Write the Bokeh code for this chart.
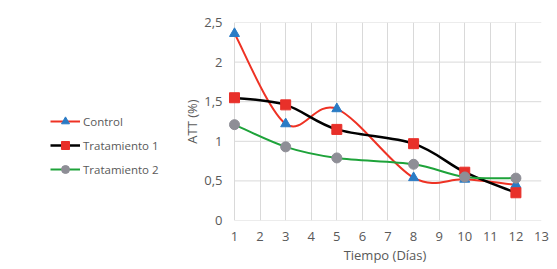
from bokeh.plotting import figure
from bokeh.layouts import row
from bokeh.models import Range1d, FixedTicker, Legend, LegendItem
from bokeh.embed import file_html
from bokeh.resources import INLINE

dias = [1, 3, 5, 8, 10, 12]
control = [2.36, 1.22, 1.41, 0.54, 0.52, 0.45]
tratamiento1 = [1.55, 1.46, 1.15, 0.97, 0.61, 0.35]
tratamiento2 = [1.21, 0.93, 0.79, 0.71, 0.55, 0.535]
x_ticks = list(range(1, 14))
y_ticks = [0, 0.5, 1, 1.5, 2, 2.5]
y_tick_labels = ["0", "0,5", "1", "1,5", "2", "2,5"]
series_names = ["Control", "Tratamiento 1", "Tratamiento 2"]

FONT = "Open Sans"
TXT = "#595959"
GRID = "#d9d9d9"
LEG_W = 165

p = figure(width=557 - LEG_W, height=269, output_backend="svg", toolbar_location=None,
           x_range=Range1d(0.7655, 13), y_range=Range1d(0, 2.5),
           min_border_left=228 - LEG_W, min_border_right=16, min_border_top=22, min_border_bottom=49)
p.background_fill_color = "white"
p.border_fill_color = "white"
p.outline_line_color = None

p.xaxis.ticker = FixedTicker(ticks=x_ticks)
p.yaxis.ticker = FixedTicker(ticks=y_ticks)
p.yaxis.major_label_overrides = {t: l for t, l in zip(y_ticks, y_tick_labels)}
for ax in (p.xaxis[0], p.yaxis[0]):
    ax.axis_line_color = None
    ax.major_tick_line_color = None
    ax.minor_tick_line_color = None
    ax.major_label_text_font = FONT
    ax.major_label_text_font_size = "13px"
    ax.major_label_text_color = TXT
    ax.axis_label_text_font = FONT
    ax.axis_label_text_font_size = "13px"
    ax.axis_label_text_color = TXT
    ax.axis_label_text_font_style = "normal"
p.xaxis.axis_label = "Tiempo (Días)"
p.yaxis.axis_label = "ATT (%)"
p.xaxis.major_label_standoff = 5
p.yaxis.major_label_standoff = 0
p.xaxis.axis_label_standoff = 2
p.yaxis.axis_label_standoff = 0
p.xgrid.grid_line_color = GRID
p.ygrid.grid_line_color = None

# horizontal gridlines spanning only the labelled x extent
p.segment(x0=[x_ticks[0]] * len(y_ticks), x1=[x_ticks[-1]] * len(y_ticks),
          y0=y_ticks, y1=y_ticks, line_color=GRID, line_width=1, level="underlay")


def smooth(xs, ys):
    n = len(xs)
    x0, y0, x1, y1, cx0, cy0, cx1, cy1 = [], [], [], [], [], [], [], []
    for i in range(n - 1):
        a = max(i - 1, 0)
        d = min(i + 2, n - 1)
        x0.append(xs[i]); y0.append(ys[i])
        x1.append(xs[i + 1]); y1.append(ys[i + 1])
        cx0.append(xs[i] + (xs[i + 1] - xs[a]) / 6.0)
        cy0.append(ys[i] + (ys[i + 1] - ys[a]) / 6.0)
        cx1.append(xs[i + 1] - (xs[d] - xs[i]) / 6.0)
        cy1.append(ys[i + 1] - (ys[d] - ys[i]) / 6.0)
    return dict(x0=x0, y0=y0, x1=x1, y1=y1, cx0=cx0, cy0=cy0, cx1=cx1, cy1=cy1)


styles = [
    (control, "#ee3224", 2, "triangle", "#2a7bc5", 10),
    (tratamiento1, "#000000", 2.5, "square", "#e8302a", 10),
    (tratamiento2, "#1ea33a", 2, "circle", "#8e8e96", 10),
]

# legend panel (separate canvas to the left of the chart); its ranges keep
# the sample renderers out of view so only the legend entries show
lf = figure(width=LEG_W, height=269, output_backend="svg", toolbar_location=None,
            x_range=Range1d(-2, -1), y_range=Range1d(-2, -1),
            x_axis_type=None, y_axis_type=None, min_border=0)
lf.outline_line_color = None
lf.grid.visible = False
lf.background_fill_color = "white"
lf.border_fill_color = "white"

items = []
for name, (vals, lc, lw, mk, mc, ms) in zip(series_names, styles):
    p.bezier(line_color=lc, line_width=lw, **smooth(dias, vals))
    p.scatter(dias, vals, marker=mk, size=ms, fill_color=mc, line_color=mc)
    br = lf.bezier(line_color=lc, line_width=lw, **smooth(dias, vals))
    sr = lf.scatter(dias, vals, marker=mk, size=ms, fill_color=mc, line_color=mc)
    items.append(LegendItem(label=name, renderers=[br, sr]))

legend = Legend(items=items, location=(50, 41), orientation="vertical")
legend.border_line_color = None
legend.background_fill_alpha = 0
legend.padding = 0
legend.margin = 0
legend.glyph_width = 30
legend.glyph_height = 20
legend.spacing = 4
legend.label_standoff = 3
legend.label_text_font = FONT
legend.label_text_font_size = "11.5px"
legend.label_text_color = TXT
lf.add_layout(legend, "center")

layout = row(lf, p, spacing=0)
open("out.html", "w").write(file_html(layout, INLINE))
